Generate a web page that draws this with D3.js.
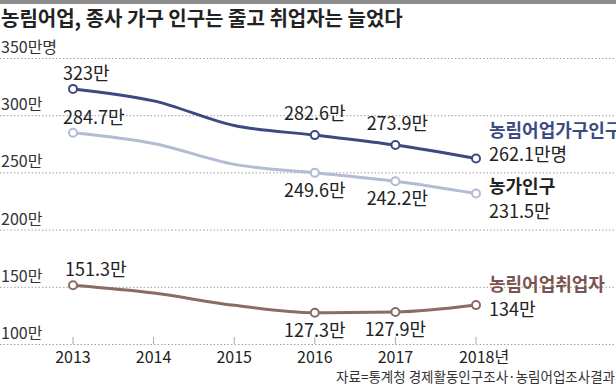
<!DOCTYPE html>
<html>
<head>
<meta charset="utf-8">
<script src="https://cdn.jsdelivr.net/npm/d3@7"></script>
<style>
  body { margin: 0; background: #fff; }
  svg { display: block; font-family: "Noto Sans CJK KR", "Noto Sans", sans-serif; }
</style>
</head>
<body>
<svg></svg>
<script>
// Chart data
const years = [2013, 2014, 2015, 2016, 2017, 2018]
const household_pop = [323, 312.5, 291, 282.6, 273.9, 262.1]
const farm_pop = [284.7, 275.3, 257, 249.6, 242.2, 231.5]
const workers = [151.3, 144.5, 133.8, 127.3, 127.9, 134]
const y_ticks = [100, 150, 200, 250, 300, 350]
const year_labels = ["2013", "2014", "2015", "2016", "2017", "2018년"]
const marked_years = [0, 3, 4, 5]

const width = 616
const height = 385

const svg = d3.select("svg")
    .attr("width", width)
    .attr("height", height)

// Scales
const x = d3.scalePoint()
    .domain(years)
    .range([73, 476])

const y = d3.scaleLinear()
    .domain([100, 350])
    .range([344, 58])

// Top bar and title
svg.append("rect")
    .attr("x", 0).attr("y", 0)
    .attr("width", width).attr("height", 4)
    .attr("fill", "#8c8c8c")

svg.append("text")
    .attr("x", 1)
    .attr("y", 26)
    .attr("font-size", "20px")
    .attr("font-weight", "bold")
    .attr("fill", "#222")
    .text("농림어업, 종사 가구 인구는 줄고 취업자는 늘었다")

// Gridlines
svg.append("g")
    .selectAll("line")
    .data(y_ticks)
    .enter()
    .append("line")
    .attr("x1", 0)
    .attr("x2", width)
    .attr("y1", d => y(d) + 0.5)
    .attr("y2", d => y(d) + 0.5)
    .attr("stroke", "#a0a0a0")
    .attr("stroke-width", 1)
    .attr("stroke-dasharray", "1.5,2")

svg.append("g")
    .selectAll("text")
    .data(y_ticks)
    .enter()
    .append("text")
    .attr("x", 1)
    .attr("y", d => y(d) - 5)
    .attr("font-size", "16px")
    .attr("fill", "#333")
    .text(d => d === 350 ? d + "만명" : d + "만")

// X axis ticks and labels
svg.append("g")
    .selectAll("line")
    .data(years)
    .enter()
    .append("line")
    .attr("x1", d => x(d))
    .attr("x2", d => x(d))
    .attr("y1", y(100) - 7)
    .attr("y2", y(100))
    .attr("stroke", "#aaa")
    .attr("stroke-width", 1)

svg.append("g")
    .selectAll("text")
    .data(years)
    .enter()
    .append("text")
    .attr("x", (d, i) => x(d) + (i === 5 ? 8 : 0))
    .attr("y", 363)
    .attr("text-anchor", "middle")
    .attr("font-size", "16px")
    .attr("fill", "#222")
    .text((d, i) => year_labels[i])

// Series
const series = [
    { values: household_pop, color: "#3b4a80" },
    { values: farm_pop, color: "#b3bbd5" },
    { values: workers, color: "#8a6c64" },
]

const line = d3.line()
    .x((d, i) => x(years[i]))
    .y(d => y(d))
    .curve(d3.curveMonotoneX)

series.forEach(function(s) {
    svg.append("path")
        .datum(s.values)
        .attr("fill", "none")
        .attr("stroke", s.color)
        .attr("stroke-width", 3)
        .attr("d", line)

    svg.append("g")
        .selectAll("circle")
        .data(marked_years)
        .enter()
        .append("circle")
        .attr("cx", i => x(years[i]))
        .attr("cy", i => y(s.values[i]))
        .attr("r", 4)
        .attr("fill", "#fff")
        .attr("stroke", s.color)
        .attr("stroke-width", 2)
})

// Value labels
function addLabel(xpos, ypos, txt, anchor = "middle") {
    svg.append("text")
        .attr("x", xpos)
        .attr("y", ypos)
        .attr("text-anchor", anchor)
        .attr("font-size", "18px")
        .attr("fill", "#222")
        .text(txt)
}

function fmt(v) { return v + "만" }

addLabel(x(2013) - 10, y(household_pop[0]) - 9, fmt(household_pop[0]), "start")
addLabel(x(2013) - 10, y(farm_pop[0]) - 9, fmt(farm_pop[0]), "start")
addLabel(x(2013) - 8, y(workers[0]) - 9, fmt(workers[0]), "start")

addLabel(x(2016), y(household_pop[3]) - 15, fmt(household_pop[3]))
addLabel(x(2017) + 2, y(household_pop[4]) - 15, fmt(household_pop[4]))
addLabel(x(2016), y(farm_pop[3]) + 24, fmt(farm_pop[3]))
addLabel(x(2017) + 2, y(farm_pop[4]) + 24, fmt(farm_pop[4]))
addLabel(x(2016), y(workers[3]) + 24, fmt(workers[3]))
addLabel(x(2017), y(workers[4]) + 24, fmt(workers[4]))

// Series names at right
const name_x = 489
function addName(ypos, txt, color) {
    svg.append("text")
        .attr("x", name_x)
        .attr("y", ypos)
        .attr("font-size", "18px")
        .attr("font-weight", "bold")
        .attr("fill", color)
        .text(txt)
}
function addValue(ypos, txt) {
    svg.append("text")
        .attr("x", name_x)
        .attr("y", ypos)
        .attr("font-size", "18px")
        .attr("fill", "#222")
        .text(txt)
}

addName(137, "농림어업가구인구", "#3b4a80")
addValue(161, household_pop[5] + "만명")
addName(193, "농가인구", "#222")
addValue(218, fmt(farm_pop[5]))
addName(291, "농림어업취업자", "#7a5550")
addValue(316, fmt(workers[5]))

// Source
svg.append("text")
    .attr("x", width - 1)
    .attr("y", 382)
    .attr("text-anchor", "end")
    .attr("font-size", "13.5px")
    .attr("fill", "#333")
    .text("자료=통계청 경제활동인구조사·농림어업조사결과")
</script>
</body>
</html>
